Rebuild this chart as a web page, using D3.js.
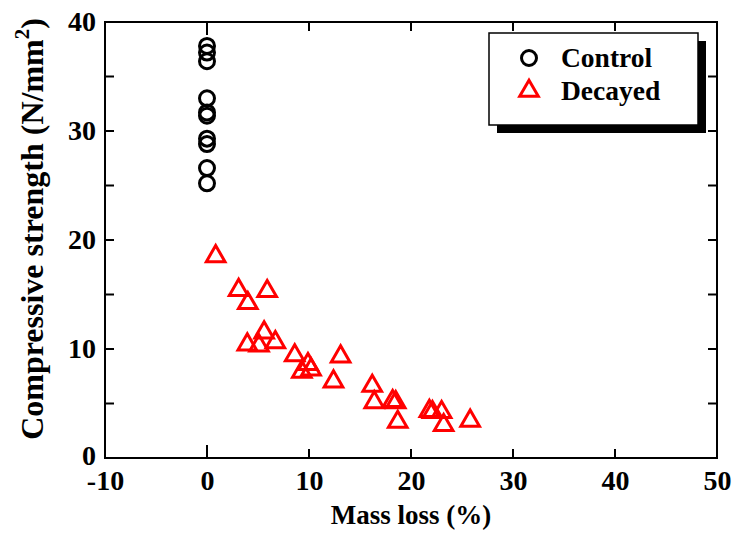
<!DOCTYPE html>
<html><head><meta charset="utf-8">
<script src="https://cdn.jsdelivr.net/npm/d3@7"></script>
<style>body{margin:0;background:#fff}svg{display:block}text{font-family:"Liberation Serif","Times New Roman",serif;font-weight:bold}</style>
</head><body>
<script>
const controlX = [0,0,0,0,0,0,0,0,0,0];
const controlY = [37.8,37.2,36.4,33.0,31.7,31.4,29.3,28.8,26.6,25.2];
const decayedX = [0.85,3.1,5.9,4.0,5.6,3.95,5.1,6.7,8.6,9.9,9.3,10.2,13.1,12.4,16.2,16.4,18.2,18.5,18.7,21.8,22.1,23.0,23.2,25.8];
const decayedY = [18.6,15.5,15.4,14.3,11.6,10.5,10.4,10.7,9.5,8.7,8.0,8.2,9.4,7.1,6.7,5.2,5.3,5.2,3.4,4.4,4.3,4.3,3.1,3.5];
const xTicks = [-10,0,10,20,30,40,50];
const yTicks = [0,10,20,30,40];
const yMinor = [5,15,25,35];
const seriesNames = ["Control","Decayed"];

const W=734,H=540;
const L=105,R=717,T=22,B=458;
const svg=d3.select("body").append("svg").attr("width",W).attr("height",H);
const x=d3.scaleLinear().domain([-10,50]).range([L,R]);
const y=d3.scaleLinear().domain([0,40]).range([B,T]);
const fmt=d=>String(d);

svg.append("rect").attr("x",L).attr("y",T).attr("width",R-L).attr("height",B-T)
  .attr("fill","none").attr("stroke","#000").attr("stroke-width",2);

const bx=svg.append("g").attr("transform",`translate(0,${B})`)
  .call(d3.axisBottom(x).tickValues(xTicks).tickSize(0).tickPadding(10).tickFormat(fmt));
bx.select(".domain").remove();
bx.selectAll("text").attr("font-size",28).attr("font-family","Liberation Serif").attr("font-weight","bold").attr("fill","#000")
  .attr("dy",null).attr("y",32);
const xt = xTicks.slice(1,-1);
svg.selectAll(".xtb").data(xt).join("line").attr("x1",d=>x(d)).attr("x2",d=>x(d))
  .attr("y1",B).attr("y2",d=>d===0?B-13:B-9).attr("stroke","#000").attr("stroke-width",2);
svg.selectAll(".xtt").data(xt).join("line").attr("x1",d=>x(d)).attr("x2",d=>x(d))
  .attr("y1",T).attr("y2",d=>d===0?T+13:T+9).attr("stroke","#000").attr("stroke-width",2);

const ly=svg.append("g").attr("transform",`translate(${L},0)`)
  .call(d3.axisLeft(y).tickValues(yTicks).tickSize(0).tickPadding(9).tickFormat(fmt));
ly.select(".domain").remove();
ly.selectAll("text").attr("font-size",28).attr("font-family","Liberation Serif").attr("font-weight","bold").attr("fill","#000");
ly.selectAll(".tick").filter(d=>d===0).select("text").attr("dy","0.22em");
const yt=yTicks.slice(1,-1).concat(yMinor);
svg.selectAll(".ytl").data(yt).join("line").attr("x1",L).attr("x2",L+9)
  .attr("y1",d=>y(d)).attr("y2",d=>y(d)).attr("stroke","#000").attr("stroke-width",2);
svg.selectAll(".ytr").data(yt).join("line").attr("x1",R).attr("x2",R-9)
  .attr("y1",d=>y(d)).attr("y2",d=>y(d)).attr("stroke","#000").attr("stroke-width",2);

svg.append("text").attr("x",411).attr("y",524).attr("text-anchor","middle")
  .attr("font-size",27).text("Mass loss (%)");
const yl=svg.append("text").attr("transform",`translate(43,229) rotate(-90)`)
  .attr("text-anchor","middle").attr("font-size",32);
yl.append("tspan").text("Compressive strength (N/mm");
yl.append("tspan").attr("dy",-14).attr("font-size",21).text("2");
yl.append("tspan").attr("dy",14).text(")");

const tri=d3.symbol().type(d3.symbolTriangle).size(150);

const ctrl=controlX.map((v,i)=>[v,controlY[i]]);
const dec=decayedX.map((v,i)=>[v,decayedY[i]]);
svg.append("g").selectAll("circle").data(ctrl).join("circle")
  .attr("cx",d=>x(d[0])).attr("cy",d=>y(d[1])).attr("r",7.5)
  .attr("fill","none").attr("stroke","#000").attr("stroke-width",3);
svg.append("g").selectAll("path").data(dec).join("path")
  .attr("d",tri).attr("transform",d=>`translate(${x(d[0])},${y(d[1])+1})`)
  .attr("fill","none").attr("stroke","#ff0000").attr("stroke-width",3);

const lg=svg.append("g");
lg.append("rect").attr("x",497).attr("y",41).attr("width",209).attr("height",92).attr("fill","#000");
lg.append("rect").attr("x",489).attr("y",33).attr("width",209).attr("height",92)
  .attr("fill","#fff").attr("stroke","#000").attr("stroke-width",1.5);
lg.append("circle").attr("cx",529).attr("cy",58).attr("r",7.5).attr("fill","none").attr("stroke","#000").attr("stroke-width",3);
lg.append("path").attr("d",tri).attr("transform","translate(529,91)").attr("fill","none").attr("stroke","#ff0000").attr("stroke-width",3);
lg.append("text").attr("x",561).attr("y",67).attr("font-size",27.5).text(seriesNames[0]);
lg.append("text").attr("x",561).attr("y",100).attr("font-size",27.5).text(seriesNames[1]);
</script>
</body></html>
